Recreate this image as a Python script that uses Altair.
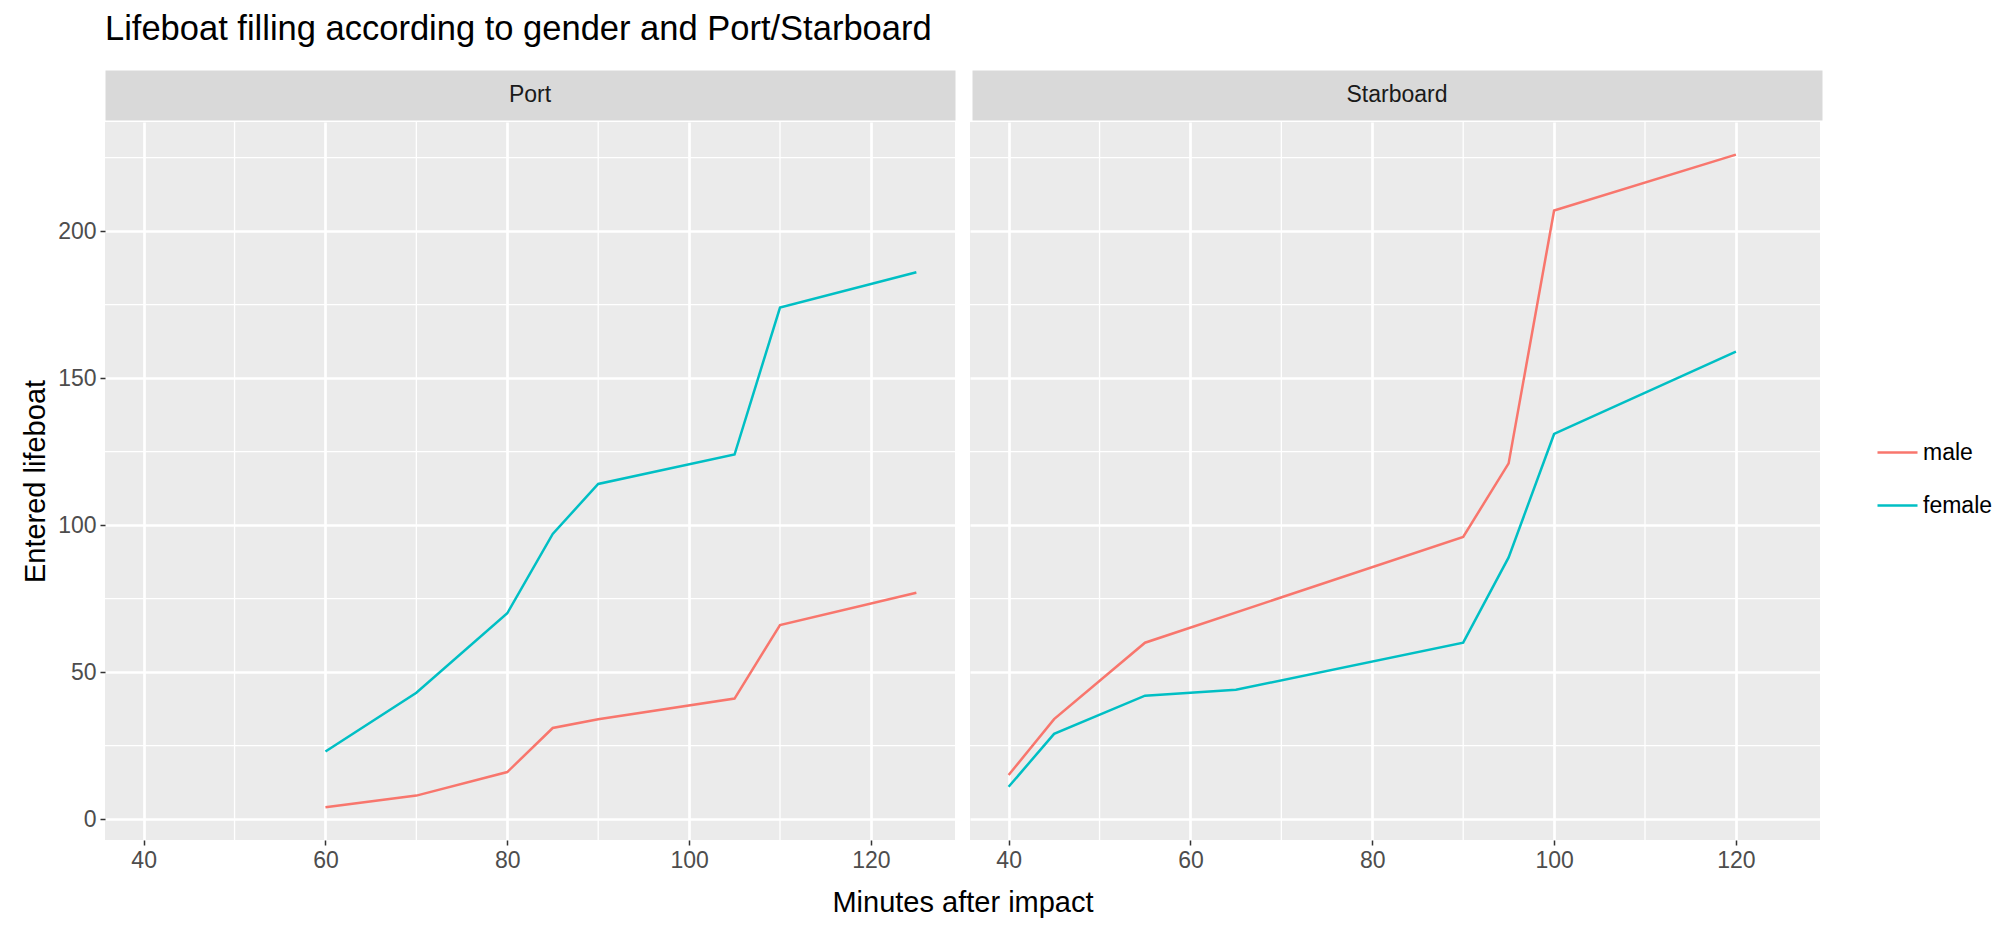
import altair as alt
import pandas as pd

# values
port_minutes = [60, 70, 80, 85, 90, 105, 110, 125]
port_male = [4, 8, 16, 31, 34, 41, 66, 77]
port_female = [23, 43, 70, 97, 114, 124, 174, 186]

star_male_minutes = [40, 45, 55, 90, 95, 100, 120]
star_male = [15, 34, 60, 96, 121, 207, 226]
star_female_minutes = [40, 45, 55, 65, 90, 95, 100, 120]
star_female = [11, 29, 42, 44, 60, 89, 131, 159]

sides = ["Port", "Starboard"]
genders = ["male", "female"]
gender_colors = ["#F8766D", "#00BFC4"]

x_major = [40, 60, 80, 100, 120]
x_minor = [50, 70, 90, 110]
y_major = [0, 50, 100, 150, 200]
y_minor = [25, 75, 125, 175, 225]

FONT = "Liberation Sans"
W, H = 850, 718
GAP = 15


def series(side, gender, minutes, counts):
    return pd.DataFrame({"side": side, "gender": gender,
                         "minutes": minutes, "entered": counts})


lines = pd.concat([
    series("Port", "male", port_minutes, port_male),
    series("Port", "female", port_minutes, port_female),
    series("Starboard", "male", star_male_minutes, star_male),
    series("Starboard", "female", star_female_minutes, star_female),
])

x_scale = alt.Scale(domain=[35.75, 129.25], nice=False, zero=False)
y_scale = alt.Scale(domain=[-7.1, 237.1], nice=False, zero=False)
color_scale = alt.Scale(domain=genders, range=gender_colors)

legend = alt.Legend(
    title=None, orient="none", legendX=1771, legendY=361,
    symbolType="stroke", symbolSize=1600, symbolStrokeWidth=2.5,
    labelFont=FONT, labelFontSize=23, labelColor="black",
    rowPadding=19, labelOffset=4,
)


def plot_panel(side, first):
    d = lines[lines.side == side]
    if first:
        x_axis = alt.Axis(values=x_major, title="Minutes after impact",
                          titleX=W + GAP / 2, titleFontSize=29, titlePadding=16)
        y_axis = alt.Axis(values=y_major, title="Entered lifeboat",
                          titleFontSize=29, titlePadding=7)
    else:
        x_axis = alt.Axis(values=x_major, title=None)
        y_axis = alt.Axis(values=y_major, title=None, labels=False,
                          ticks=False, minExtent=0)

    curves = alt.Chart(d).mark_line(strokeWidth=2.5).encode(
        x=alt.X("minutes:Q", scale=x_scale, axis=x_axis),
        y=alt.Y("entered:Q", scale=y_scale, axis=y_axis),
        color=alt.Color("gender:N", scale=color_scale, legend=legend),
        detail="gender:N",
    )

    # minor grid lines, drawn beneath the curves
    vgrid = alt.Chart(pd.DataFrame({"minutes": x_minor})).mark_rule(
        color="white", strokeWidth=1.3
    ).encode(x=alt.X("minutes:Q", scale=x_scale, axis=x_axis))

    hgrid = alt.Chart(pd.DataFrame({"entered": y_minor})).mark_rule(
        color="white", strokeWidth=1.3
    ).encode(y=alt.Y("entered:Q", scale=y_scale, axis=y_axis))

    return alt.layer(vgrid, hgrid, curves).properties(
        width=W, height=H,
        view=alt.ViewBackground(fill="#EBEBEB", stroke="transparent"),
    )


def strip(side):
    return alt.Chart(pd.DataFrame({"side": [side]})).mark_text(
        font=FONT, fontSize=23, color="#1A1A1A"
    ).encode(text="side:N").properties(
        width=W, height=50,
        view=alt.ViewBackground(fill="#D9D9D9", stroke="transparent"),
    )


strips = alt.hconcat(strip(sides[0]), strip(sides[1]), spacing=GAP)
plots = alt.hconcat(plot_panel(sides[0], True), plot_panel(sides[1], False),
                    spacing=GAP, bounds="flush")

chart = alt.vconcat(strips, plots, spacing=0).properties(
    title=alt.TitleParams(
        "Lifeboat filling according to gender and Port/Starboard",
        anchor="start", frame="group", font=FONT, fontSize=34.5,
        fontWeight="normal", color="black", offset=22,
    ),
    padding={"left": 13, "top": 4, "right": 5, "bottom": 5},
).configure_view(
    strokeWidth=0
).configure_axis(
    labelFont=FONT, labelFontSize=23, labelColor="#4D4D4D",
    titleFont=FONT, titleFontWeight="normal", titleColor="black",
    tickColor="#333333", tickSize=5, tickWidth=1.5, labelPadding=4,
    domain=False, grid=True, gridColor="white", gridWidth=2.7,
)

chart.save("out.html", embed_options={"renderer": "svg", "actions": False})
